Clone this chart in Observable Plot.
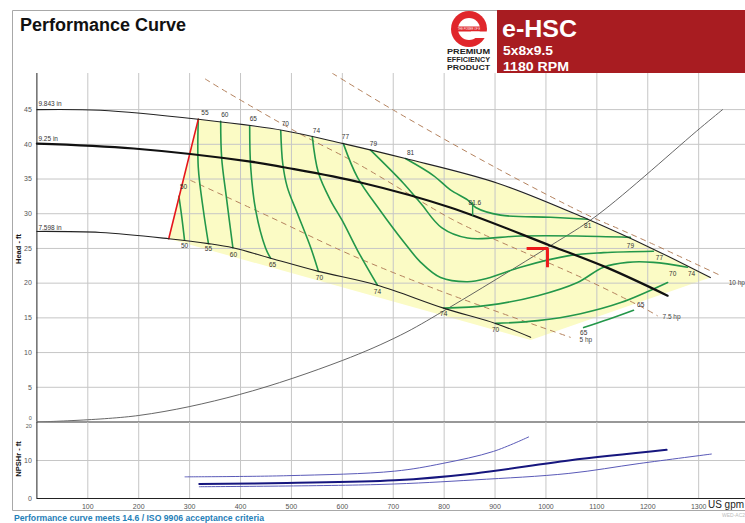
<!DOCTYPE html>
<html>
<head>
<meta charset="utf-8">
<script src="https://cdn.jsdelivr.net/npm/d3@7"></script>
<script src="https://cdn.jsdelivr.net/npm/@observablehq/plot@0.6"></script>
<style>
html,body{margin:0;padding:0;background:#fff;}
#wrap{position:relative;width:745px;height:523px;overflow:hidden;font-family:"Liberation Sans",Arial,sans-serif;}
#head,#npsh,#deco{position:absolute;left:0;}
#head{top:0;} #npsh{top:415px;} #deco{top:0;pointer-events:none;}
</style>
</head>
<body>
<div id="wrap">
<div id="head"></div>
<div id="npsh"></div>
<svg id="deco" width="745" height="523" font-family="'Liberation Sans',Arial,sans-serif">
  <path d="M745 10.5H12.5V510.5H745" fill="none" stroke="#a8a8a8" stroke-width="1"/>
  <text x="20" y="31" font-size="18" font-weight="bold" fill="#111">Performance Curve</text>
  <rect x="497" y="10" width="248" height="63" fill="#a81c21"/>
  <text x="502" y="37" font-size="23" font-weight="bold" fill="#fff" textLength="75" lengthAdjust="spacingAndGlyphs">e-HSC</text>
  <text x="503" y="55" font-size="13" font-weight="bold" fill="#fff" textLength="50" lengthAdjust="spacingAndGlyphs">5x8x9.5</text>
  <text x="503" y="70.5" font-size="13" font-weight="bold" fill="#fff" textLength="66" lengthAdjust="spacingAndGlyphs">1180 RPM</text>
  <g>
    <circle cx="469" cy="29" r="18" fill="#e0262b"/>
    <circle cx="469" cy="29" r="11" fill="#fff"/>
    <rect x="457" y="26.5" width="24" height="5" fill="#e0262b"/>
    <path d="M471 31.5 L489 31.5 L489 38 L471 38 Z" fill="#fff"/>
    <text x="469" y="30.3" font-size="2.6" fill="#fff" text-anchor="middle">THE POWER OF E</text>
  </g>
  <text x="447" y="54" font-size="7.5" font-weight="bold" fill="#222" textLength="43" lengthAdjust="spacingAndGlyphs">PREMIUM</text>
  <text x="447" y="62" font-size="7.5" font-weight="bold" fill="#222" textLength="43" lengthAdjust="spacingAndGlyphs">EFFICIENCY</text>
  <text x="447" y="70" font-size="7.5" font-weight="bold" fill="#222" textLength="43" lengthAdjust="spacingAndGlyphs">PRODUCT</text>
  <text transform="translate(21,249) rotate(-90)" text-anchor="middle" font-size="7.5" font-weight="bold" fill="#111">Head - ft</text>
  <text transform="translate(21,459) rotate(-90)" text-anchor="middle" font-size="7.5" font-weight="bold" fill="#111">NPSHr - ft</text>
  <text x="708" y="508" font-size="10" fill="#222" textLength="36" lengthAdjust="spacingAndGlyphs">US gpm</text>
  <text x="14" y="521" font-size="9.5" font-weight="bold" fill="#1f80b8" textLength="250" lengthAdjust="spacingAndGlyphs">Performance curve meets 14.6 / ISO 9906 acceptance criteria</text>
  <text x="722" y="517" font-size="5" fill="#bbb">WED-AC2</text>
</svg>
</div>
<script>
// ---- axis ticks ----
const xTicks = [100,200,300,400,500,600,700,800,900,1000,1100,1200,1300];
const headTicks = [5,10,15,20,25,30,35,40,45];
const headZeroTick = [0];
const npshTicks = [0,10];
const npshTopTick = [20];

// ---- impeller curves [US gpm, ft] ----
const imp9843 = [[0,45.0],[125,44.9],[317,43.6],[484,42.0],[602,40.1],[724,37.95],[905,34.4],[1082,29.2],[1211,24.9],[1323,20.8]];
const imp925  = [[0,40.1],[190,39.4],[420,37.5],[484,36.7],[636,34.5],[812,30.9],[1009,25.4],[1121,22.2],[1239,18.2]];
const imp7598 = [[0,27.45],[125,27.3],[259,26.4],[337,25.7],[385,25.1],[459,23.6],[553,21.7],[669,19.7],[799,16.4],[901,14.2],[970,12.2]];
const envelopeLow = [[970,11.8],[259,26.4]];
const minFlowLine = [[259,26.4],[317,43.6]];

// ---- system curve ----
const systemCurve = [[0,0],[200,0.94],[398,3.96],[600,8.86],[714,12.5],[799,16.0],[1009,25.4],[1101,29.8],[1304,42.4],[1347,45.0]];

// ---- efficiency contours (%) ----
const eff50 = [[279,32.5],[285,29.3],[290,26.2]];
const eff55 = [[317,43.6],[317,36.7],[327,30.5],[337,25.7]];
const eff60 = [[361,43.3],[363,38.0],[372,32.5],[385,25.1]];
const eff65 = [[418,42.6],[420,36.7],[430,30.4],[449,25.1],[459,23.6]];
const eff70 = [[479,42.0],[483,37.2],[492,33.8],[512,30.0],[538,25.1],[553,21.7]];
const eff74 = [[541,41.1],[553,35.9],[577,31.9],[600,29.0],[630,24.7],[669,19.7]];
const eff77 = [[602,40.1],[630,35.2],[675,30.4],[720,26.0],[754,23.0],[793,20.8],[846,20.2],[885,20.7],[950,22.3],[1048,24.0],[1113,24.4],[1211,24.6]];
const eff79 = [[655,39.2],[720,34.4],[754,31.5],[795,28.0],[846,26.5],[950,26.8],[1060,26.8],[1166,26.6]];
const eff81 = [[724,37.95],[779,35.5],[813,33.4],[846,32.0],[862,30.9],[911,29.8],[1009,29.5],[1082,29.2]];
const eff74b = [[799,16.4],[885,16.8],[984,18.2],[1062,20.1],[1113,22.3],[1160,23.0],[1211,23.0],[1278,22.3]];
const eff70b = [[901,14.2],[984,14.6],[1068,15.6],[1147,17.2],[1239,20.1]];
const eff65b = [[1074,13.6],[1123,14.8],[1172,16.1]];
const bepMark = [[856,31.6],[856,29.8]];
const dutyMark = [[962,25.0],[1003,25.0],[1003,22.3]];

// ---- power lines (hp) ----
const hp10 = [[581,50.2],[701,44.9],[905,36.5],[1082,29.8],[1147,27.7],[1211,25.6],[1343,21.1]];
const hp75 = [[331,49.4],[361,48.05],[512,41.7],[630,37.2],[813,29.3],[872,27.2],[1082,20.4],[1200,16.1],[1219,15.3]];
const hp5  = [[302,34.8],[459,29.5],[616,24.1],[799,18.7],[1048,12.2]];

// ---- NPSHr curves ----
const npsh1 = [[291,5.7],[491,6.0],[703,7.2],[796,9.2],[897,12.4],[966,16.2]];
const npsh2 = [[319,3.8],[491,4.1],[703,4.8],[860,6.6],[1045,10.0],[1237,12.8]];
const npsh3 = [[319,3.1],[676,3.7],[860,4.9],[1045,6.6],[1183,9.2],[1325,11.7]];

// ---- labels ----
const impLabels = [{q:3,h:45.75,t:"9.843 in"},{q:3,h:40.85,t:"9.25 in"},{q:3,h:28.0,t:"7.598 in"}];
const effLabels = [
  {q:330,h:44.5,t:"55"},{q:369,h:44.2,t:"60"},{q:425,h:43.6,t:"65"},{q:488,h:42.9,t:"70"},
  {q:549,h:41.9,t:"74"},{q:606,h:41.0,t:"77"},{q:661,h:40.1,t:"79"},{q:734,h:38.8,t:"81"},
  {q:290,h:25.3,t:"50"},{q:337,h:24.9,t:"55"},{q:386,h:24.1,t:"60"},{q:463,h:22.6,t:"65"},
  {q:555,h:20.8,t:"70"},{q:669,h:18.7,t:"74"},{q:799,h:15.6,t:"74"},{q:901,h:13.2,t:"70"},
  {q:288,h:33.8,t:"50"},{q:1082,h:28.2,t:"81"},{q:1166,h:25.4,t:"79"},{q:1223,h:23.7,t:"77"},
  {q:1286,h:21.4,t:"74"},{q:1249,h:21.4,t:"70"},{q:1186,h:16.9,t:"65"},{q:1074,h:12.8,t:"65"}
];
const bepLabel = [{q:848,h:31.5,t:"81.6"}];
const hpLabels = [{q:1359,h:20.0,t:"10 hp"},{q:1229,h:15.2,t:"7.5 hp"},{q:1066,h:11.8,t:"5 hp"}];

// ---- build ----
const pts = a => a.map(([q,h]) => ({q,h}));
const FONT = "'Liberation Sans', Arial, sans-serif";
const green = "#23974a";
const grid = "#c6c6c6";
const effLines = [eff50,eff55,eff60,eff65,eff70,eff74,eff77,eff79,eff81,eff74b,eff70b,eff65b];
const hpLines = [hp10,hp75,hp5];
const yellow = pts([...imp9843.filter(d => d[0] >= 317), ...envelopeLow]);

const headPlot = Plot.plot({
  width:745, height:424, marginLeft:36.4, marginRight:0, marginTop:73, marginBottom:2.5,
  x:{domain:[0,1392], axis:null}, y:{domain:[0,50.2], axis:null},
  style:{background:"transparent", fontFamily:FONT, fontSize:"7px", overflow:"visible"},
  marks:[
    Plot.line(yellow,{x:"q",y:"h",fill:"#fbfbc5",stroke:"none",curve:"linear"}),
    Plot.ruleX(xTicks,{stroke:grid}),
    Plot.ruleY(headTicks,{stroke:grid}),
    Plot.line(pts(systemCurve),{x:"q",y:"h",stroke:"#555",strokeWidth:0.9,curve:"catmull-rom",clip:true}),
    ...hpLines.map(a => Plot.line(pts(a),{x:"q",y:"h",stroke:"#b4825e",strokeWidth:1,strokeDasharray:"5,5",curve:"catmull-rom",clip:true})),
    ...effLines.map(a => Plot.line(pts(a),{x:"q",y:"h",stroke:green,strokeWidth:1.6,curve:"catmull-rom"})),
    Plot.line(pts(minFlowLine),{x:"q",y:"h",stroke:"#e5161c",strokeWidth:1.6}),
    Plot.line(pts(imp9843),{x:"q",y:"h",stroke:"#222",strokeWidth:1.1,curve:"catmull-rom"}),
    Plot.line(pts(imp925),{x:"q",y:"h",stroke:"#111",strokeWidth:2.2,curve:"catmull-rom"}),
    Plot.line(pts(imp7598),{x:"q",y:"h",stroke:"#222",strokeWidth:1.1,curve:"catmull-rom"}),
    Plot.line(pts(bepMark),{x:"q",y:"h",stroke:green,strokeWidth:1.4}),
    Plot.line(pts(dutyMark),{x:"q",y:"h",stroke:"#ee1c1c",strokeWidth:3,strokeLinecap:"butt",strokeLinejoin:"miter"}),
    Plot.ruleX([0],{stroke:"#222"}),
    Plot.ruleY([0],{stroke:"#333",strokeWidth:1.2}),
    Plot.text(headTicks,{x:0,y:d => d,text:d => String(d),dx:-5,textAnchor:"end",fill:"#555",fontSize:7}),
    Plot.text(headZeroTick,{x:0,y:d => d,text:d => String(d),dx:-5,dy:-3.5,textAnchor:"end",fill:"#555",fontSize:5.5}),
    Plot.text(impLabels,{x:"q",y:"h",text:"t",textAnchor:"start",fill:"#333",fontSize:6.5}),
    Plot.text(effLabels,{x:"q",y:"h",text:"t",fill:"#333",fontSize:6.5}),
    Plot.text(bepLabel,{x:"q",y:"h",text:"t",textAnchor:"start",fill:"#333",fontSize:6.5}),
    Plot.text(hpLabels,{x:"q",y:"h",text:"t",textAnchor:"start",fill:"#444",fontSize:6.5})
  ]
});
document.getElementById("head").appendChild(headPlot);

const npshPlot = Plot.plot({
  width:745, height:108, marginLeft:36.4, marginRight:0, marginTop:7, marginBottom:25,
  x:{domain:[0,1392], axis:null}, y:{domain:[0,20], axis:null},
  style:{background:"transparent", fontFamily:FONT, fontSize:"7px", overflow:"visible"},
  marks:[
    Plot.ruleX(xTicks,{stroke:grid}),
    Plot.ruleY([10],{stroke:grid}),
    Plot.line(pts(npsh1),{x:"q",y:"h",stroke:"#5a5ab8",strokeWidth:1,curve:"catmull-rom"}),
    Plot.line(pts(npsh3),{x:"q",y:"h",stroke:"#5a5ab8",strokeWidth:1,curve:"catmull-rom"}),
    Plot.line(pts(npsh2),{x:"q",y:"h",stroke:"#16167e",strokeWidth:2,curve:"catmull-rom"}),
    Plot.ruleX([0],{stroke:"#222"}),
    Plot.ruleY([0],{stroke:"#222"}),
    Plot.text(xTicks,{x:d => d,y:0,dy:8,text:d => String(d),fill:"#555",fontSize:7}),
    Plot.text(npshTicks,{x:0,y:d => d,dx:-5,text:d => String(d),textAnchor:"end",fill:"#555",fontSize:7}),
    Plot.text(npshTopTick,{x:0,y:d => d,dx:-5,dy:4,text:d => String(d),textAnchor:"end",fill:"#555",fontSize:5.5})
  ]
});
document.getElementById("npsh").appendChild(npshPlot);
</script>
</body>
</html>
